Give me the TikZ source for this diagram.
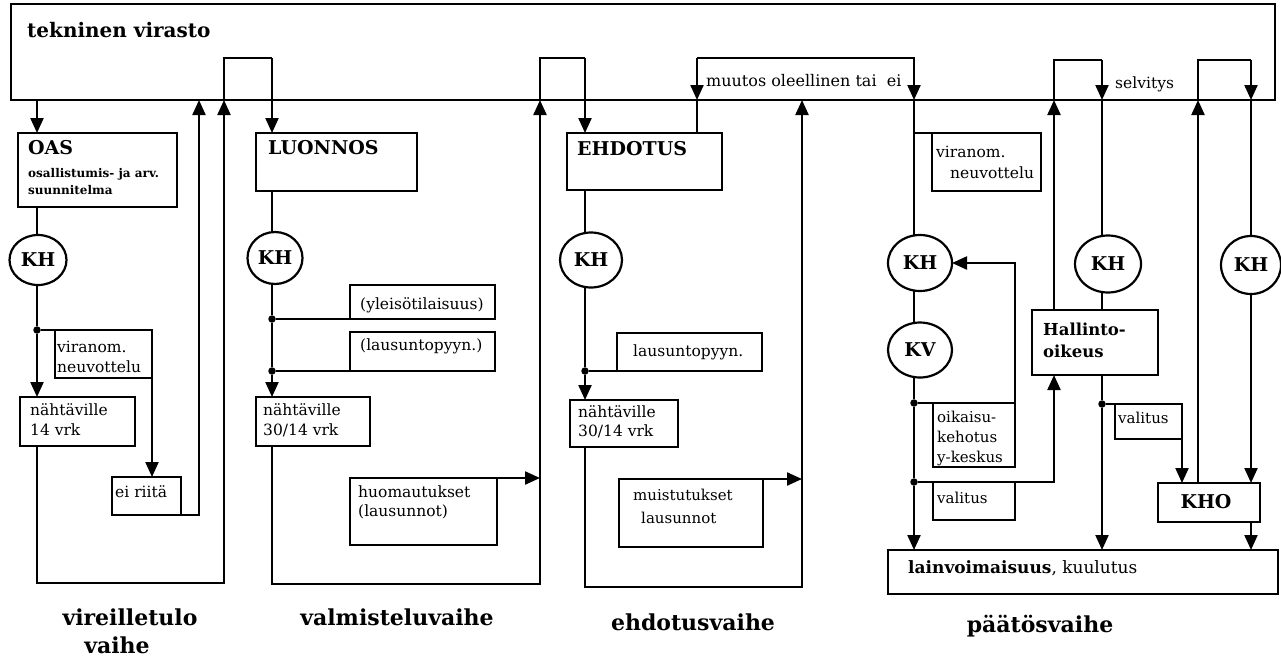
\documentclass[tikz,border=0pt]{standalone}
\usepackage{fontspec}
\setmainfont{DejaVu Serif}
\usetikzlibrary{arrows.meta,shapes.geometric}
\newcommand\fz[2]{\fontsize{#1}{#2}\selectfont}
\newcommand\bx[5]{\node[box,minimum width={#4-#2},minimum height={#5-#3}] (#1) at ({(#2+#4)/2},{(#3+#5)/2}) {};}
\begin{document}
\begin{tikzpicture}[x=1pt,y=-1pt,
  ln/.style={line width=2.2pt},
  arr/.style={line width=2.2pt,-{Triangle[length=15pt,width=13pt]}},
  box/.style={draw,line width=2.2pt,rectangle,inner sep=0pt,outer sep=0pt},
  ring/.style={draw,ellipse,line width=2.2pt,inner sep=0pt,outer sep=0pt,font=\fz{19}{21}\bfseries},
  dotn/.style={circle,fill,inner sep=0pt,outer sep=0pt,minimum size=7.5pt},
  tx/.style={anchor=base west,inner sep=0pt,font=\fz{15.5}{17}},
  txn/.style={anchor=base west,inner sep=0pt,font=\fz{15}{17}},
  txs/.style={anchor=base west,inner sep=0pt,font=\fz{12}{14}\bfseries},
  txb/.style={anchor=base west,inner sep=0pt,font=\fz{19}{22}\bfseries},
  phase/.style={anchor=base,inner sep=0pt,font=\fz{22}{26}\bfseries}
]
\useasboundingbox (0,0) rectangle (1281,656);
% column guide coordinates
\coordinate (xa) at (37,0);
\coordinate (xb) at (272,0);
\coordinate (xc) at (585,0);
\coordinate (xm) at (697,0);
\coordinate (xd) at (914,0);
\coordinate (xh) at (1054,0);
\coordinate (xe) at (1102,0);
\coordinate (xg) at (1198,0);
\coordinate (xf) at (1251,0);
\coordinate (lp0) at (199,0);
\coordinate (nt1) at (0,58);
\coordinate (nt2) at (0,60);
\coordinate (lp1) at (224,583);
\coordinate (lp2) at (540,584);
\coordinate (lp3) at (802,587);

% boxes
\bx{tv}{11}{4}{1275}{100}
\bx{oas}{18}{133}{177}{207}
\bx{vr1}{55}{330}{152}{378}
\bx{n1}{20}{397}{135}{446}
\bx{eir}{112}{477}{181}{515}
\bx{lu}{256}{133}{417}{191}
\bx{yl}{350}{285}{495}{319}
\bx{la2}{350}{332}{495}{371}
\bx{n2}{256}{397}{370}{446}
\bx{hu}{350}{478}{497}{545}
\bx{eh}{567}{133}{722}{190}
\bx{la3}{617}{333}{762}{371}
\bx{n3}{570}{400}{678}{447}
\bx{mu}{619}{479}{763}{547}
\bx{vr4}{932}{133}{1041}{191}
\bx{ok}{933}{403}{1015}{467}
\bx{va4}{933}{482}{1015}{520}
\bx{ho}{1032}{310}{1158}{375}
\bx{va5}{1115}{404}{1182}{439}
\bx{kho}{1158}{483}{1260}{522}
\bx{lv}{888}{550}{1278}{594}

% circles
\node[ring,minimum width=57pt,minimum height=50pt] (kh1) at (38,260) {KH};
\node[ring,minimum width=55pt,minimum height=52pt] (kh2) at (275,258) {KH};
\node[ring,minimum width=62pt,minimum height=55pt] (kh3) at (591,260) {KH};
\node[ring,minimum width=64pt,minimum height=56pt] (kh4) at (920,263) {KH};
\node[ring,minimum width=64pt,minimum height=55pt] (kv) at (920,350) {KV};
\node[ring,minimum width=66pt,minimum height=57pt] (kh5) at (1108,264) {KH};
\node[ring,minimum width=60pt,minimum height=58pt] (kh6) at (1251,265) {KH};

% dots
\node[dotn] (d1a) at (37,330) {};
\node[dotn] (d2a) at (272,319) {};
\node[dotn] (d2b) at (272,371) {};
\node[dotn] (d3) at (585,371) {};
\node[dotn] (d4a) at (914,403) {};
\node[dotn] (d4b) at (914,482) {};
\node[dotn] (d5) at (1102,404) {};

% column 1
\draw[arr] (tv.south -| xa) -- (oas.north -| xa);
\draw[ln] (oas.south -| xa) -- (kh1.north -| xa);
\draw[ln] (kh1.south -| xa) -- (d1a);
\draw[arr] (d1a) -- (n1.north -| xa);
\draw[arr] (d1a) -| (eir.north -| vr1.east);
\draw[arr] (n1.south -| xa) |- (lp1) -- (lp1 |- tv.south);
\draw[arr] (eir.south east) -| (lp0 |- tv.south);
\draw[ln] (lp1 |- tv.south) -- (lp1 |- nt1) -- (xb |- nt1);
\draw[arr] (xb |- nt1) -- (lu.north -| xb);

% column 2
\draw[ln] (lu.south -| xb) -- (kh2.north -| xb);
\draw[ln] (kh2.south -| xb) -- (d2a) -- (d2b);
\draw[arr] (d2b) -- (n2.north -| xb);
\draw[ln] (d2a) -- (yl.south west);
\draw[ln] (d2b) -- (la2.south west);
\draw[arr] (n2.south -| xb) |- (lp2) -- (lp2 |- tv.south);
\draw[arr] (hu.north east) -- (hu.north east -| lp2);
\draw[ln] (lp2 |- tv.south) -- (lp2 |- nt1) -- (xc |- nt1);
\draw[arr] (xc |- nt1) -- (eh.north -| xc);

% column 3
\draw[ln] (eh.south -| xc) -- (kh3.north -| xc);
\draw[ln] (kh3.south -| xc) -- (d3);
\draw[arr] (d3) -- (n3.north -| xc);
\draw[ln] (d3) -- (la3.south west);
\draw[arr] (n3.south -| xc) |- (lp3) -- (lp3 |- tv.south);
\draw[arr] (mu.north east) -- (mu.north east -| lp3);
\draw[ln] (eh.north -| xm) -- (xm |- tv.south);
\draw[arr] (xm |- nt1) -- (xm |- tv.south);
\draw[arr] (xm |- nt1) -| (xd |- tv.south);

% column 4
\draw[ln] (xd |- tv.south) -- (kh4.north -| xd);
\draw[ln] (vr4.north west -| xd) -- (vr4.north west);
\draw[ln] (kh4.south -| xd) -- (kv.north -| xd);
\draw[ln] (kv.south -| xd) -- (d4a) -- (d4b);
\draw[arr] (d4b) -- (lv.north -| xd);
\draw[arr] (d4a) -| (kh4.east -| ok.east) -- (kh4.east);
\draw[arr] (d4b) -| (ho.south -| xh);
\draw[arr] (ho.north -| xh) -- (xh |- tv.south);
\draw[ln] (xh |- tv.south) -- (xh |- nt2) -- (xe |- nt2);
\draw[arr] (xe |- nt2) -- (xe |- tv.south);

% column 5
\draw[ln] (xe |- tv.south) -- (kh5.north -| xe);
\draw[ln] (kh5.south -| xe) -- (ho.north -| xe);
\draw[ln] (ho.south -| xe) -- (d5);
\draw[arr] (d5) -- (lv.north -| xe);
\draw[arr] (d5) -| (kho.north -| va5.east);
\draw[arr] (kho.north -| xg) -- (xg |- tv.south);
\draw[ln] (xg |- tv.south) -- (xg |- nt2) -- (xf |- nt2);
\draw[arr] (xf |- nt2) -- (xf |- tv.south);
\draw[ln] (xf |- tv.south) -- (kh6.north -| xf);
\draw[arr] (kh6.south -| xf) -- (kho.north -| xf);
\draw[arr] (kho.south -| xf) -- (lv.north -| xf);

% texts
\node[anchor=base west,inner sep=0pt,font=\fz{20}{24}\bfseries] (ttv) at (27,37) {tekninen virasto};
\node[txb] (toas) at (28,154) {OAS};
\node[txs] (toas2) at (28,177) {osallistumis- ja arv.};
\node[txs] (toas3) at (28,194) {suunnitelma};
\node[txb] (tlu) at (268,154) {LUONNOS};
\node[txb] (teh) at (577,155) {EHDOTUS};
\node[tx] (tvr1a) at (57,352) {viranom.};
\node[tx] (tvr1b) at (57,372) {neuvottelu};
\node[tx] (tn1a) at (30,415) {nähtäville};
\node[tx] (tn1b) at (30,435) {14 vrk};
\node[tx] (teir) at (115,497) {ei riitä};
\node[tx] (tyl) at (360,309) {(yleisötilaisuus)};
\node[tx] (tla2) at (360,350) {(lausuntopyyn.)};
\node[tx] (tn2a) at (263,415) {nähtäville};
\node[tx] (tn2b) at (263,435) {30/14 vrk};
\node[tx] (thu1) at (358,497) {huomautukset};
\node[tx] (thu2) at (358,516) {(lausunnot)};
\node[tx] (tla3) at (633,356) {lausuntopyyn.};
\node[tx] (tn3a) at (578,417) {nähtäville};
\node[tx] (tn3b) at (578,436) {30/14 vrk};
\node[txn] (tmu1) at (633,500) {muistutukset};
\node[txn] (tmu2) at (641,523) {lausunnot};
\node[anchor=base west,inner sep=0pt,font=\fz{16}{18}] (tmuu) at (706,86) {muutos oleellinen tai\ \ ei};
\node[tx] (tsel) at (1115,88) {selvitys};
\node[tx] (tvr4a) at (936,157) {viranom.};
\node[tx] (tvr4b) at (950,178) {neuvottelu};
\node[txn] (tok1) at (937,422) {oikaisu-};
\node[txn] (tok2) at (937,442) {kehotus};
\node[txn] (tok3) at (937,462) {y-keskus};
\node[txn] (tva4) at (937,503) {valitus};
\node[anchor=base west,inner sep=0pt,font=\fz{16.5}{20}\bfseries] (tho1) at (1043,335) {Hallinto-};
\node[anchor=base west,inner sep=0pt,font=\fz{16.5}{20}\bfseries] (tho2) at (1043,357) {oikeus};
\node[txn] (tva5) at (1118,423) {valitus};
\node[inner sep=0pt,font=\fz{19}{21}\bfseries] (tkho) at (1206,502) {KHO};
\node[anchor=base west,inner sep=0pt,font=\fz{17}{19}] (tlv) at (908,573) {\textbf{lainvoimaisuus},\ kuulutus};

\node[phase] (ph1a) at (130,625) {vireilletulo};
\node[phase] (ph1b) at (117,653) {vaihe};
\node[phase] (ph2) at (397,625) {valmisteluvaihe};
\node[phase] (ph3) at (693,630) {ehdotusvaihe};
\node[phase] (ph4) at (1040,632) {päätösvaihe};
\end{tikzpicture}
\end{document}
